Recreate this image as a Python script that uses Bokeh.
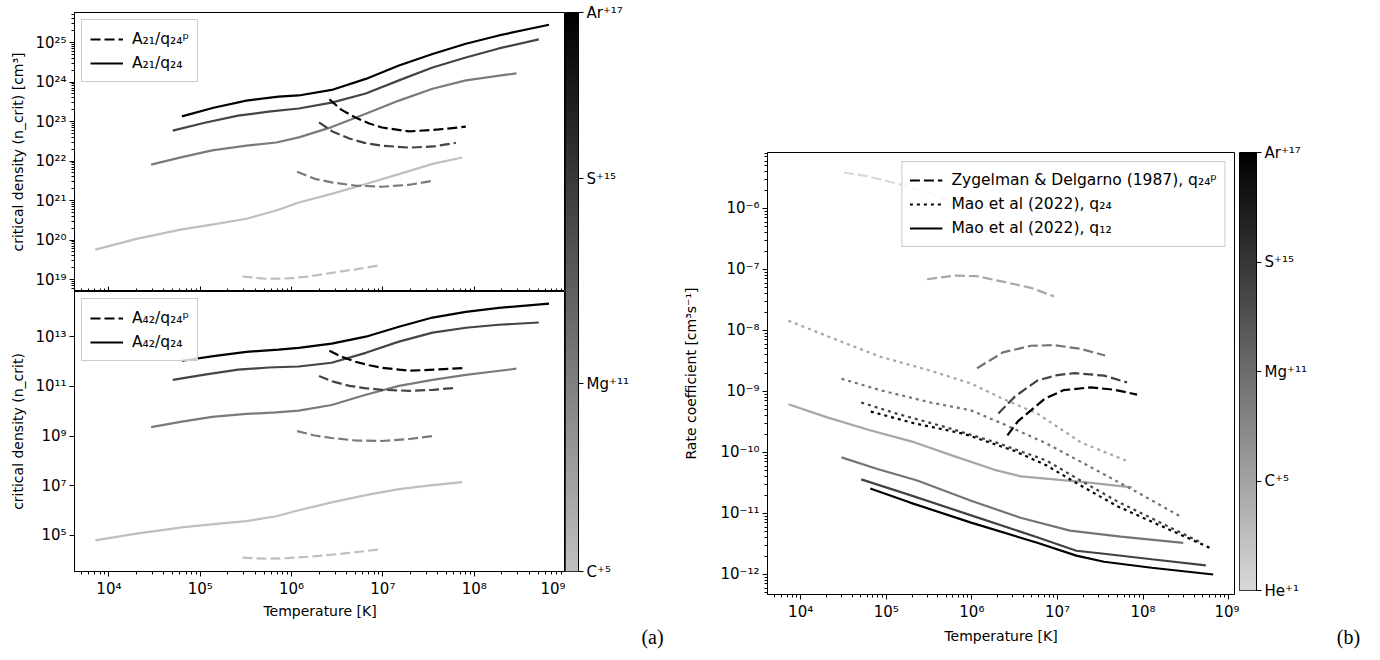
import numpy as np
from bokeh.plotting import figure
from bokeh.layouts import row, column
from bokeh.models import (Range1d, FixedTicker, CustomJSTickFormatter, Legend, LegendItem,
                          LinearColorMapper, LogAxis)
from bokeh.core.properties import value
from bokeh.embed import file_html
from bokeh.resources import INLINE

# ======================= DATA: panel (a) =======================
ions_a = ["C⁺⁵", "Mg⁺¹¹", "S⁺¹⁵", "Ar⁺¹⁷"]
colors_a = ["#bfbfbf", "#7a7a7a", "#444444", "#000000"]

# solid curves: A21/q24 (top) and A42/q24 (bottom)
T_a_sol_C = [7.1e3, 2.0e4, 6.3e4, 1.4e5, 3.2e5, 6.8e5, 1.2e6, 2.75e6, 6.5e6, 1.5e7, 3.5e7, 7.4e7]
n21_C = [5.75e19, 1.07e20, 1.86e20, 2.51e20, 3.47e20, 5.62e20, 8.91e20, 1.48e21, 2.63e21, 4.68e21, 8.51e21, 1.23e22]
n42_C = [6.31e4, 1.17e5, 2.09e5, 2.82e5, 3.72e5, 5.89e5, 1.02e6, 2.14e6, 4.17e6, 7.24e6, 1.05e7, 1.38e7]

T_a_sol_Mg = [2.9e4, 6.3e4, 1.35e5, 3.2e5, 6.8e5, 1.2e6, 2.75e6, 6.5e6, 1.5e7, 3.5e7, 8.1e7, 2.9e8]
n21_Mg = [8.13e21, 1.26e22, 1.86e22, 2.45e22, 2.95e22, 3.98e22, 7.24e22, 1.58e23, 3.39e23, 6.76e23, 1.1e24, 1.66e24]
n42_Mg = [2.29e9, 3.8e9, 5.89e9, 7.76e9, 8.91e9, 1.05e10, 1.78e10, 4.57e10, 1.05e11, 1.82e11, 2.88e11, 5.13e11]

T_a_sol_S = [5.0e4, 1.12e5, 2.6e5, 5.6e5, 1.2e6, 2.75e6, 6.5e6, 1.5e7, 3.5e7, 8.1e7, 1.86e8, 5.1e8]
n21_S = [5.89e22, 9.33e22, 1.41e23, 1.78e23, 2.14e23, 3.02e23, 5.13e23, 1.1e24, 2.34e24, 4.17e24, 7.08e24, 1.2e25]
n42_S = [1.82e11, 2.95e11, 4.68e11, 5.75e11, 6.31e11, 8.91e11, 2.24e12, 6.31e12, 1.45e13, 2.29e13, 3.02e13, 3.72e13]

T_a_sol_Ar = [6.3e4, 1.4e5, 3.2e5, 7.2e5, 1.2e6, 2.75e6, 6.5e6, 1.5e7, 3.5e7, 8.1e7, 1.86e8, 6.6e8]
n21_Ar = [1.35e23, 2.24e23, 3.39e23, 4.27e23, 4.57e23, 6.31e23, 1.2e24, 2.63e24, 5.13e24, 9.33e24, 1.51e25, 2.82e25]
n42_Ar = [1.07e12, 1.66e12, 2.45e12, 3.02e12, 3.55e12, 5.25e12, 1.0e13, 2.51e13, 5.89e13, 1.0e14, 1.45e14, 2.14e14]

# dashed curves: A21/q24^p (top) and A42/q24^p (bottom)
T_a_dsh_C = [2.9e5, 5.2e5, 8.9e5, 1.55e6, 2.75e6, 5.0e6, 9.1e6]
n21p_C = [1.2e19, 1.05e19, 1.07e19, 1.2e19, 1.48e19, 1.82e19, 2.29e19]
n42p_C = [1.26e4, 1.15e4, 1.2e4, 1.38e4, 1.66e4, 2.09e4, 2.69e4]

T_a_dsh_Mg = [1.15e6, 1.8e6, 2.75e6, 5.0e6, 9.8e6, 1.95e7, 3.5e7]
n21p_Mg = [5.37e21, 3.55e21, 2.88e21, 2.4e21, 2.24e21, 2.51e21, 3.16e21]
n42p_Mg = [1.58e9, 1.05e9, 8.32e8, 6.61e8, 6.31e8, 7.59e8, 1.0e9]

T_a_dsh_S = [2.0e6, 2.8e6, 4.3e6, 6.3e6, 9.8e6, 1.95e7, 3.55e7, 6.3e7]
n21p_S = [9.55e22, 5.62e22, 3.72e22, 2.88e22, 2.45e22, 2.19e22, 2.34e22, 2.88e22]
n42p_S = [2.63e11, 1.58e11, 1.05e11, 8.51e10, 7.24e10, 6.61e10, 7.24e10, 8.71e10]

T_a_dsh_Ar = [2.6e6, 3.5e6, 5.0e6, 7.1e6, 9.8e6, 1.95e7, 4.1e7, 8.1e7]
n21p_Ar = [3.63e23, 2.0e23, 1.26e23, 8.91e22, 7.08e22, 5.62e22, 6.31e22, 7.41e22]
n42p_Ar = [2.69e12, 1.58e12, 9.77e11, 7.08e11, 5.62e11, 4.27e11, 4.79e11, 5.5e11]

# ======================= DATA: panel (b) =======================
ions_b = ["He⁺¹", "C⁺⁵", "Mg⁺¹¹", "S⁺¹⁵", "Ar⁺¹⁷"]
colors_b = ["#d9d9d9", "#a6a6a6", "#747474", "#424242", "#000000"]

# Zygelman & Delgarno (1987), q24^p  (dashed)
T_zd_He = [3.2e4, 6.0e4, 1.1e5, 2.0e5, 3.5e5, 5.6e5]
q_zd_He = [3.89e-6, 3.39e-6, 2.75e-6, 2.19e-6, 1.7e-6, 1.32e-6]
T_zd_C = [3.0e5, 6.2e5, 1.15e6, 2.3e6, 4.9e6, 9.1e6]
q_zd_C = [6.92e-8, 7.94e-8, 7.76e-8, 6.31e-8, 5.01e-8, 3.63e-8]
T_zd_Mg = [1.15e6, 2.3e6, 4.9e6, 9.1e6, 1.86e7, 3.6e7]
q_zd_Mg = [2.4e-9, 4.37e-9, 5.62e-9, 5.75e-9, 5.01e-9, 3.89e-9]
T_zd_S = [2.04e6, 3.2e6, 5.8e6, 1.0e7, 1.6e7, 3.5e7, 6.5e7]
q_zd_S = [4.37e-10, 8.32e-10, 1.51e-9, 1.86e-9, 2.0e-9, 1.82e-9, 1.41e-9]
T_zd_Ar = [2.6e6, 3.5e6, 4.9e6, 7.1e6, 1.17e7, 2.45e7, 4.6e7, 8.5e7]
q_zd_Ar = [1.91e-10, 3.31e-10, 4.9e-10, 7.59e-10, 1.05e-9, 1.17e-9, 1.07e-9, 8.91e-10]

# Mao et al (2022), q24 (dotted)
T_q24_C = [7.2e3, 2.2e4, 8.5e4, 3.3e5, 9.8e5, 2.3e6, 5.8e6, 1.9e7, 6.8e7]
q24_C = [1.45e-8, 7.76e-9, 3.72e-9, 2.19e-9, 1.35e-9, 7.59e-10, 4.37e-10, 1.45e-10, 7.08e-11]
T_q24_Mg = [3.0e4, 8.5e4, 3.3e5, 9.8e5, 2.3e6, 7.4e6, 1.86e7, 8.5e7, 2.75e8]
q24_Mg = [1.62e-9, 1.05e-9, 6.61e-10, 4.9e-10, 2.95e-10, 1.41e-10, 7.08e-11, 2.24e-11, 8.91e-12]
T_q24_S = [5.1e4, 1.3e5, 5.1e5, 1.95e6, 7.4e6, 1.86e7, 5.0e7, 1.6e8, 4.8e8]
q24_S = [6.61e-10, 4.37e-10, 2.57e-10, 1.45e-10, 7.41e-11, 3.47e-11, 1.58e-11, 7.08e-12, 3.31e-12]
T_q24_Ar = [6.6e4, 2.1e5, 7.9e5, 3.1e6, 7.4e6, 1.86e7, 5.0e7, 1.6e8, 6.2e8]
q24_Ar = [4.68e-10, 3.02e-10, 2.04e-10, 1.07e-10, 6.17e-11, 2.88e-11, 1.32e-11, 6.31e-12, 2.69e-12]

# Mao et al (2022), q12 (solid)
T_q12_C = [7.2e3, 2.0e4, 6.3e4, 2.0e5, 6.2e5, 1.8e6, 3.7e6, 9.1e6, 2.2e7, 7.4e7]
q12_C = [6.17e-10, 3.8e-10, 2.34e-10, 1.51e-10, 8.71e-11, 5.25e-11, 4.07e-11, 3.63e-11, 3.24e-11, 2.69e-11]
T_q12_Mg = [3.0e4, 7.9e4, 2.3e5, 9.8e5, 3.7e6, 1.4e7, 5.5e7, 2.95e8]
q12_Mg = [8.32e-11, 5.37e-11, 3.47e-11, 1.62e-11, 8.51e-12, 5.25e-12, 4.17e-12, 3.31e-12]
T_q12_S = [5.1e4, 1.9e5, 9.8e5, 5.8e6, 1.66e7, 3.5e7, 1.26e8, 5.4e8]
q12_S = [3.63e-11, 2.0e-11, 9.33e-12, 4.07e-12, 2.45e-12, 2.19e-12, 1.78e-12, 1.41e-12]
T_q12_Ar = [6.5e4, 1.9e5, 9.8e5, 5.8e6, 1.66e7, 3.5e7, 1.26e8, 6.6e8]
q12_Ar = [2.57e-11, 1.51e-11, 7.08e-12, 3.31e-12, 2.04e-12, 1.62e-12, 1.29e-12, 1.0e-12]

# ======================= STYLE =======================
FONT = "DejaVu Sans"
LW = 2.2
DASH = "10 4"
DOT = "3 4"

SUP_JS = """
const s = {"0":"⁰","1":"¹","2":"²","3":"³","4":"⁴","5":"⁵","6":"⁶","7":"⁷","8":"⁸","9":"⁹","-":"⁻"};
const e = Math.round(Math.log10(tick));
return "10" + String(e).split("").map(c => s[c]).join("");
"""


def decades(e0, e1, step=1):
    return [10.0 ** e for e in range(e0, e1 + 1, step)]


def minors(e0, e1):
    return [m * 10.0 ** e for e in range(e0, e1 + 1) for m in range(2, 10)]


def style_axis(ax, major, minor, label=None, label_standoff=8):
    ax.ticker = FixedTicker(ticks=major, minor_ticks=minor)
    ax.formatter = CustomJSTickFormatter(code=SUP_JS)
    ax.major_label_text_font = FONT
    ax.major_label_text_font_size = "15px"
    ax.major_label_text_color = "black"
    ax.major_tick_in = 0
    ax.major_tick_out = 5
    ax.minor_tick_in = 0
    ax.minor_tick_out = 3
    ax.major_tick_line_color = "black"
    ax.minor_tick_line_color = "black"
    ax.axis_line_color = "black"
    ax.major_label_standoff = 3
    ax.axis_label_text_font = FONT
    ax.axis_label_text_font_size = "14px"
    ax.axis_label_text_font_style = "normal"
    ax.axis_label_text_color = "black"
    ax.axis_label_standoff = label_standoff
    if label is not None:
        ax.axis_label = label


def make_fig(xr, yr, fw, fh, left, right, top, bottom, xaxis=True):
    p = figure(x_axis_type="log", y_axis_type="log", x_range=xr, y_range=yr,
               frame_width=fw, frame_height=fh,
               min_border_left=left, min_border_right=right,
               min_border_top=top, min_border_bottom=bottom,
               toolbar_location=None, output_backend="svg",
               x_axis_location="below" if xaxis else None)
    p.xgrid.visible = False
    p.ygrid.visible = False
    p.outline_line_color = "black"
    p.outline_line_alpha = 1.0
    p.outline_line_width = 1
    return p


def add_legend(p, entries, loc, margin, label_height, padding, spacing):
    items = [LegendItem(label=label, renderers=[r]) for label, r in entries]
    leg = Legend(items=items, location=loc, margin=margin, padding=padding, spacing=spacing,
                 glyph_width=33, glyph_height=20, label_height=label_height, label_standoff=9,
                 label_text_font=FONT, label_text_font_size="15.5px", label_text_color="black",
                 border_line_color="#cccccc", border_line_alpha=1.0,
                 background_fill_color="white", background_fill_alpha=0.8)
    p.add_layout(leg)


def gray_palette(lo, n=256):
    vals = np.linspace(lo, 0, n).round().astype(int)
    return ["#%02x%02x%02x" % (v, v, v) for v in vals]


def make_cbar(fw, fh, top, bottom, right, lo, ymax, ticks, labels):
    p = figure(x_range=Range1d(0, 1), y_range=Range1d(0, ymax),
               frame_width=fw, frame_height=fh,
               min_border_left=0, min_border_right=right,
               min_border_top=top, min_border_bottom=bottom,
               x_axis_location=None, y_axis_location="right",
               toolbar_location=None, output_backend="svg")
    p.xgrid.visible = False
    p.ygrid.visible = False
    mapper = LinearColorMapper(palette=gray_palette(lo), low=0, high=1)
    p.image(image=[np.linspace(0, 1, 256).reshape(-1, 1)], x=0, y=0, dw=1, dh=ymax,
            color_mapper=mapper)
    p.outline_line_color = "black"
    p.outline_line_alpha = 1.0
    ax = p.yaxis[0]
    ax.ticker = FixedTicker(ticks=ticks, minor_ticks=[])
    ax.major_label_overrides = dict(zip(ticks, labels))
    ax.major_label_text_font = FONT
    ax.major_label_text_font_size = "15px"
    ax.major_label_text_color = "black"
    ax.major_tick_in = 0
    ax.major_tick_out = 5
    ax.major_tick_line_color = "black"
    ax.axis_line_color = "black"
    ax.major_label_standoff = 3
    return p


def tag_fig(width, height, text, cx):
    p = figure(width=width, height=height, x_range=Range1d(0, width), y_range=Range1d(0, height),
               min_border=0, x_axis_location=None, y_axis_location=None,
               toolbar_location=None, output_backend="svg")
    p.xgrid.visible = False
    p.ygrid.visible = False
    p.outline_line_color = None
    p.text(x=[cx], y=[height / 2], text=[text], text_font=value("Liberation Serif"),
           text_font_size="20px", text_align="center", text_baseline="middle", text_color="black")
    return p


# ======================= PANEL (a) =======================
xr_a = Range1d(4.2e3, 1.0e9)

pa_top = make_fig(xr_a, Range1d(5.0e18, 5.75e25), 491, 279, 74, 0, 12, 0, xaxis=False)
pa_bot = make_fig(xr_a, Range1d(3.5e3, 6.6e14), 491, 280, 74, 0, 0, 80, xaxis=True)

# tick marks (no labels) along the shared edge, pointing into the upper panel
shared_ax = LogAxis(ticker=FixedTicker(ticks=decades(4, 9), minor_ticks=minors(3, 9)),
                    formatter=CustomJSTickFormatter(code='return "";'),
                    major_tick_in=5, major_tick_out=0, minor_tick_in=3, minor_tick_out=0,
                    major_label_standoff=0, major_label_text_font_size="0px",
                    major_tick_line_color="black", minor_tick_line_color="black",
                    axis_line_color="black")
pa_top.add_layout(shared_ax, "below")

style_axis(pa_top.yaxis[0], decades(19, 25), minors(18, 25),
           "critical density (n_crit) [cm³]", 6)
style_axis(pa_bot.yaxis[0], decades(5, 13, 2), [], "critical density (n_crit)", 6)
style_axis(pa_bot.xaxis[0], decades(4, 9), minors(3, 9), "Temperature [K]", 2)

sol_a = [(T_a_sol_C, n21_C, n42_C), (T_a_sol_Mg, n21_Mg, n42_Mg),
         (T_a_sol_S, n21_S, n42_S), (T_a_sol_Ar, n21_Ar, n42_Ar)]
dsh_a = [(T_a_dsh_C, n21p_C, n42p_C), (T_a_dsh_Mg, n21p_Mg, n42p_Mg),
         (T_a_dsh_S, n21p_S, n42p_S), (T_a_dsh_Ar, n21p_Ar, n42p_Ar)]

ref_a = {}
for i, c in enumerate(colors_a):
    T, n21, n42 = sol_a[i]
    r1 = pa_top.line(T, n21, line_color=c, line_width=LW)
    r2 = pa_bot.line(T, n42, line_color=c, line_width=LW)
    T, n21, n42 = dsh_a[i]
    r3 = pa_top.line(T, n21, line_color=c, line_width=LW, line_dash=DASH)
    r4 = pa_bot.line(T, n42, line_color=c, line_width=LW, line_dash=DASH)
    ref_a[i] = (r1, r2, r3, r4)

r1, r2, r3, r4 = ref_a[3]  # black (Ar) renderers as legend samples
add_legend(pa_top, [("A₂₁/q₂₄ᵖ", r3), ("A₂₁/q₂₄", r1)], "top_left", 7, 21, 8, 3)
add_legend(pa_bot, [("A₄₂/q₂₄ᵖ", r4), ("A₄₂/q₂₄", r2)], "top_left", 7, 21, 8, 3)

cb_a = make_cbar(13, 559, 12, 50, 102, 0xc0, 1000, [0, 336, 703, 1000], ions_a)
tag_a = tag_fig(115, 30, "(a)", 87)

# ======================= PANEL (b) =======================
pb = make_fig(Range1d(4.1e3, 1.17e9), Range1d(4.7e-13, 8.28e-6), 467, 442, 84, 5, 152, 57)
style_axis(pb.yaxis[0], decades(-12, -6), minors(-13, -6), "Rate coefficient [cm³s⁻¹]", 18)
style_axis(pb.xaxis[0], decades(4, 9), minors(3, 9), "Temperature [K]", 4)

zd = [(T_zd_He, q_zd_He), (T_zd_C, q_zd_C), (T_zd_Mg, q_zd_Mg), (T_zd_S, q_zd_S), (T_zd_Ar, q_zd_Ar)]
m24 = [None, (T_q24_C, q24_C), (T_q24_Mg, q24_Mg), (T_q24_S, q24_S), (T_q24_Ar, q24_Ar)]
m12 = [None, (T_q12_C, q12_C), (T_q12_Mg, q12_Mg), (T_q12_S, q12_S), (T_q12_Ar, q12_Ar)]

leg_b = {}
for i, c in enumerate(colors_b):
    T, q = zd[i]
    rd = pb.line(T, q, line_color=c, line_width=LW, line_dash=DASH)
    ro = rs = None
    if m24[i] is not None:
        T, q = m24[i]
        ro = pb.line(T, q, line_color=c, line_width=LW, line_dash=DOT)
    if m12[i] is not None:
        T, q = m12[i]
        rs = pb.line(T, q, line_color=c, line_width=LW)
    leg_b[i] = (rd, ro, rs)

rd, ro, rs = leg_b[4]
add_legend(pb, [("Zygelman & Delgarno (1987), q₂₄ᵖ", rd),
                ("Mao et al (2022), q₂₄", ro),
                ("Mao et al (2022), q₁₂", rs)], "top_right", 9, 22, 7, 2)

cb_b = make_cbar(17, 438, 152, 31, 112, 0xd9, 4, [0, 1, 2, 3, 4], ions_b)
tag_b = tag_fig(129, 30, "(b)", 109)

layout = row(column(pa_top, pa_bot, spacing=0),
             column(column(cb_a), column(tag_a), spacing=0),
             column(pb),
             column(column(cb_b), column(tag_b), spacing=0),
             spacing=0)
open("out.html", "w").write(file_html(layout, INLINE, title="chart"))
